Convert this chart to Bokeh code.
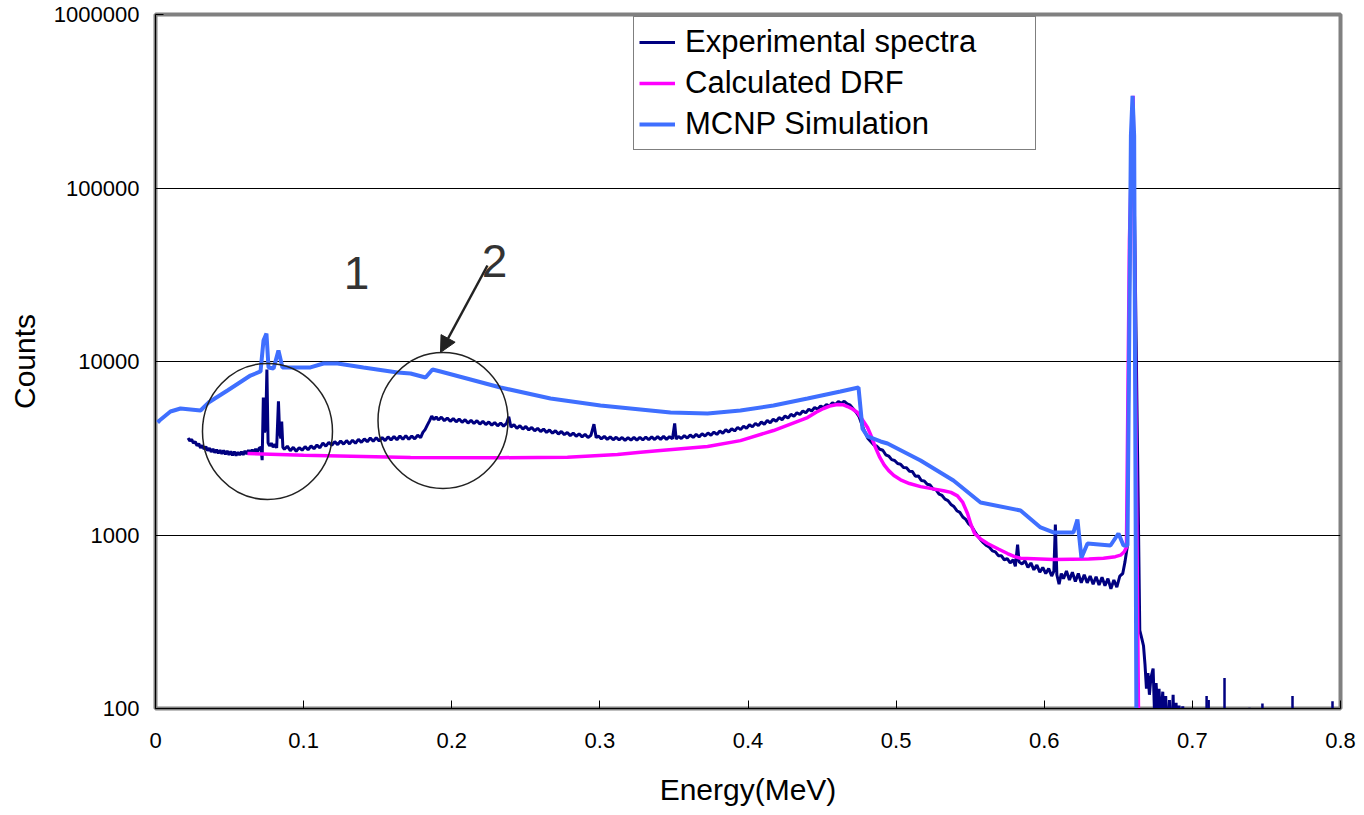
from bokeh.plotting import figure
from bokeh.models import (Range1d, FixedTicker, PrintfTickFormatter, CustomJSTickFormatter,
                          Arrow, NormalHead)
from bokeh.core.properties import value
from bokeh.embed import file_html
from bokeh.resources import INLINE

FONT = "Liberation Sans"

# ---------------- data ----------------
x_ticks = [0, 0.1, 0.2, 0.3, 0.4, 0.5, 0.6, 0.7, 0.8]
y_ticks = [100, 1000, 10000, 100000, 1000000]

series_names = ["Experimental spectra", "Calculated DRF", "MCNP Simulation"]

exp_points = [
    (0.0220, 3620), (0.0232, 3480), (0.0244, 3560), (0.0256, 3380), (0.0268, 3450),
    (0.0280, 3270), (0.0292, 3360), (0.0304, 3180), (0.0316, 3290), (0.0328, 3120),
    (0.0340, 3230), (0.0352, 3060), (0.0364, 3170), (0.0376, 3010), (0.0388, 3130),
    (0.0400, 2980), (0.0412, 3100), (0.0424, 2960), (0.0436, 3080), (0.0448, 2940),
    (0.0460, 3070), (0.0472, 2920), (0.0484, 3050), (0.0496, 2900), (0.0508, 3030),
    (0.0520, 2880), (0.0532, 3020), (0.0544, 2870), (0.0556, 3000), (0.0568, 2890),
    (0.0580, 3020), (0.0592, 2900), (0.0604, 3050), (0.0616, 2930), (0.0628, 3080),
    (0.0640, 2960), (0.0652, 3100), (0.0664, 2990), (0.0676, 3130), (0.0688, 3010),
    (0.0700, 3170), (0.0712, 3200), (0.0720, 2700), (0.0728, 6200), (0.0736, 3900),
    (0.0744, 4200), (0.0752, 9000), (0.0760, 3400), (0.0770, 3260), (0.0782, 3380),
    (0.0794, 3210), (0.0806, 3330), (0.0818, 3180), (0.0830, 5900), (0.0838, 3900),
    (0.0846, 3600), (0.0852, 4500), (0.0860, 3200), (0.0870, 3120),
    (0.0890, 3250), (0.0910, 3060), (0.0930, 3200), (0.0950, 3040), (0.0970, 3190),
    (0.0990, 3080), (0.1010, 3230), (0.1030, 3100), (0.1050, 3260), (0.1070, 3140),
    (0.1090, 3300), (0.1110, 3180), (0.1130, 3390), (0.1150, 3250), (0.1170, 3420),
    (0.1190, 3290), (0.1210, 3450), (0.1230, 3320), (0.1250, 3480), (0.1270, 3340),
    (0.1290, 3500), (0.1310, 3350), (0.1330, 3520), (0.1350, 3380), (0.1370, 3560),
    (0.1390, 3420), (0.1410, 3580), (0.1430, 3450), (0.1450, 3620), (0.1470, 3470),
    (0.1490, 3640), (0.1510, 3480), (0.1530, 3650), (0.1550, 3500), (0.1570, 3680),
    (0.1590, 3530), (0.1610, 3700), (0.1630, 3540), (0.1650, 3720), (0.1670, 3560),
    (0.1690, 3740), (0.1710, 3560), (0.1730, 3720), (0.1750, 3580), (0.1770, 3760),
    (0.1790, 3640), (0.1805, 3900), (0.1820, 4050), (0.1835, 4300), (0.1850, 4550),
    (0.1865, 4850), (0.1880, 4620), (0.1895, 4800), (0.1910, 4600), (0.1930, 4780),
    (0.1950, 4560), (0.1970, 4720), (0.1990, 4520), (0.2010, 4690), (0.2030, 4490),
    (0.2050, 4660), (0.2070, 4460), (0.2090, 4620), (0.2110, 4420), (0.2130, 4580),
    (0.2150, 4390), (0.2170, 4560), (0.2190, 4360), (0.2210, 4520), (0.2230, 4330),
    (0.2250, 4480), (0.2270, 4300), (0.2290, 4450), (0.2310, 4260), (0.2330, 4420),
    (0.2350, 4240), (0.2370, 4400), (0.2385, 4800), (0.2400, 4180), (0.2420, 4330),
    (0.2440, 4120), (0.2460, 4270), (0.2480, 4080), (0.2500, 4220), (0.2520, 4030),
    (0.2540, 4170), (0.2560, 3990), (0.2580, 4120), (0.2600, 3950), (0.2620, 4080),
    (0.2640, 3900), (0.2660, 4030), (0.2680, 3860), (0.2700, 3990), (0.2720, 3820),
    (0.2740, 3950), (0.2760, 3790), (0.2780, 3900), (0.2800, 3740), (0.2820, 3870),
    (0.2840, 3710), (0.2860, 3830), (0.2880, 3680), (0.2900, 3800), (0.2920, 3650),
    (0.2940, 3760), (0.2960, 4350), (0.2975, 3640), (0.2990, 3720), (0.3010, 3580),
    (0.3030, 3700), (0.3050, 3560), (0.3070, 3680), (0.3090, 3540), (0.3110, 3660),
    (0.3130, 3530), (0.3150, 3650), (0.3170, 3510), (0.3190, 3640), (0.3210, 3520),
    (0.3230, 3650), (0.3250, 3520), (0.3270, 3660), (0.3290, 3530), (0.3310, 3670),
    (0.3330, 3540), (0.3350, 3680), (0.3370, 3550), (0.3390, 3690), (0.3410, 3560),
    (0.3430, 3700), (0.3450, 3560), (0.3470, 3690), (0.3490, 3580), (0.3505, 4400),
    (0.3515, 3570), (0.3530, 3700), (0.3550, 3600), (0.3570, 3740), (0.3590, 3620),
    (0.3610, 3770), (0.3630, 3650), (0.3650, 3800), (0.3670, 3680), (0.3690, 3830),
    (0.3710, 3720), (0.3730, 3870), (0.3750, 3760), (0.3770, 3920), (0.3790, 3800),
    (0.3810, 3980), (0.3830, 3860), (0.3850, 4040), (0.3870, 3920), (0.3890, 4100),
    (0.3910, 3980), (0.3930, 4170), (0.3950, 4050), (0.3970, 4240), (0.3990, 4120),
    (0.4010, 4320), (0.4030, 4200), (0.4050, 4400), (0.4070, 4270), (0.4090, 4480),
    (0.4110, 4350), (0.4130, 4570), (0.4150, 4430), (0.4170, 4650), (0.4190, 4520),
    (0.4210, 4750), (0.4230, 4620), (0.4250, 4850), (0.4270, 4720), (0.4290, 4960),
    (0.4310, 4830), (0.4330, 5070), (0.4350, 4950), (0.4370, 5190), (0.4390, 5060),
    (0.4410, 5310), (0.4430, 5180), (0.4450, 5430), (0.4470, 5300), (0.4490, 5540),
    (0.4510, 5420), (0.4530, 5650), (0.4550, 5540), (0.4570, 5780), (0.4590, 5650),
    (0.4610, 5880), (0.4630, 5740), (0.4650, 5900), (0.4670, 5700), (0.4690, 5600),
    (0.4710, 5350), (0.4730, 5100), (0.4750, 4800), (0.4770, 4300), (0.4790, 3900),
    (0.4810, 3600), (0.4830, 3450), (0.4850, 3300), (0.4870, 3250), (0.4890, 3120),
    (0.4910, 3080), (0.4930, 2900), (0.4950, 2850), (0.4970, 2720), (0.4990, 2690),
    (0.5010, 2580), (0.5030, 2560), (0.5050, 2450), (0.5070, 2440), (0.5090, 2330),
    (0.5110, 2320), (0.5130, 2180), (0.5150, 2190), (0.5170, 2060), (0.5190, 2050),
    (0.5210, 1960), (0.5230, 1940), (0.5250, 1840), (0.5270, 1820), (0.5290, 1720),
    (0.5310, 1690), (0.5330, 1610), (0.5350, 1580), (0.5370, 1500), (0.5390, 1460),
    (0.5410, 1380), (0.5430, 1350), (0.5450, 1270), (0.5470, 1230), (0.5490, 1160),
    (0.5510, 1120), (0.5530, 1050), (0.5550, 990), (0.5570, 940), (0.5590, 900),
    (0.5610, 870), (0.5630, 850), (0.5650, 810), (0.5670, 800), (0.5690, 760),
    (0.5710, 760), (0.5730, 720), (0.5750, 730), (0.5770, 690), (0.5790, 720),
    (0.5805, 660), (0.5820, 880), (0.5830, 700), (0.5850, 680), (0.5870, 710),
    (0.5890, 650), (0.5910, 690), (0.5930, 630), (0.5950, 670), (0.5970, 610),
    (0.5990, 650), (0.6010, 600), (0.6030, 640), (0.6050, 580), (0.6065, 620),
    (0.6075, 1150), (0.6085, 590), (0.6100, 520), (0.6115, 600), (0.6130, 560),
    (0.6150, 620), (0.6170, 550), (0.6190, 610), (0.6210, 540), (0.6230, 600),
    (0.6250, 530), (0.6270, 590), (0.6290, 530), (0.6310, 580), (0.6330, 520),
    (0.6350, 575), (0.6370, 515), (0.6390, 570), (0.6410, 510), (0.6430, 560),
    (0.6450, 490), (0.6470, 550), (0.6490, 500), (0.6510, 580), (0.6530, 600),
    (0.6545, 700), (0.6560, 850), (0.6580, 60000), (0.6600, 300000), (0.6630, 3000),
    (0.6645, 282), (0.6660, 250), (0.6670, 230), (0.6680, 180), (0.6690, 130),
    (0.6700, 160), (0.6710, 120), (0.6720, 150), (0.6735, 170), (0.6745, 90),
    (0.6755, 140), (0.6765, 100), (0.6775, 130), (0.6785, 80), (0.6800, 125),
    (0.6810, 70), (0.6820, 118), (0.6830, 60), (0.6845, 112), (0.6855, 50),
    (0.6870, 120), (0.6880, 50), (0.6890, 108), (0.6900, 50), (0.6910, 104),
    (0.6920, 50), (0.6935, 103), (0.6950, 50), (0.7000, 50),
]
exp_energy = [e for e, _ in exp_points]
exp_counts = [c for _, c in exp_points]

# isolated single-channel counts in the tail of the experimental spectrum
tail_energy = [0.7096, 0.7110, 0.7217, 0.7386, 0.7473, 0.7676, 0.7946]
tail_counts = [118, 112, 150, 101, 107, 118, 110]

drf_energy = [0.0621, 0.1000, 0.1722, 0.2329, 0.2781, 0.3119, 0.3274, 0.3409, 0.3727,
              0.3949, 0.4172, 0.4402, 0.4460, 0.4510, 0.4560, 0.4604, 0.4640, 0.4672,
              0.4705, 0.4739, 0.4770, 0.4807, 0.4830, 0.4860, 0.4890, 0.4920, 0.4950,
              0.4985, 0.5030, 0.5090, 0.5165, 0.5240, 0.5320, 0.5370, 0.5414, 0.5450,
              0.5482, 0.5505, 0.5530, 0.5570, 0.5617, 0.5690, 0.5752, 0.5800, 0.5840,
              0.6062, 0.6300, 0.6400, 0.6480, 0.6515, 0.6540, 0.6555, 0.6575, 0.6600,
              0.6636, 0.6648]
drf_counts = [2950, 2880, 2800, 2790, 2810, 2910, 3000, 3070, 3240,
              3500, 4000, 4750, 5100, 5360, 5560, 5650, 5640, 5500,
              5320, 5080, 4650, 4165, 3750, 3200, 2800, 2530, 2350,
              2200, 2080, 1980, 1900, 1850, 1800, 1760, 1680, 1540,
              1330, 1150, 1020, 950, 893, 830, 782, 750, 735,
              722, 728, 735, 750, 765, 800, 850, 50000, 340000,
              100, 20]

mcnp_energy = [0.0014, 0.0027, 0.0101, 0.0169, 0.0304, 0.0358, 0.0486, 0.0641, 0.0709,
               0.0729, 0.0749, 0.0763, 0.0797, 0.0830, 0.0857, 0.1046, 0.1134, 0.1229,
               0.1404, 0.1634, 0.1722, 0.1823, 0.1870, 0.1924, 0.2329, 0.2667, 0.3004,
               0.3274, 0.3477, 0.3727, 0.3949, 0.4172, 0.4402, 0.4624, 0.4746, 0.4773,
               0.4807, 0.4895, 0.4942, 0.5165, 0.5387, 0.5570, 0.5840, 0.5975, 0.6062,
               0.6197, 0.6224, 0.6251, 0.6292, 0.6447, 0.6501, 0.6535, 0.6562, 0.6585,
               0.6596, 0.6607, 0.6625]
mcnp_counts = [4450, 4570, 5150, 5360, 5220, 5800, 6810, 8300, 8760,
               13200, 14500, 9240, 9110, 11570, 9240, 9240, 9740, 9740,
               9240, 8640, 8530, 8085, 9000, 8760, 7083, 6118, 5577,
               5290, 5080, 5015, 5220, 5580, 6118, 6716, 7083, 4100,
               3700, 3460, 3370, 2690, 2060, 1540, 1384, 1105, 1034,
               1034, 1228, 740, 893, 870, 1020, 870, 870, 200000,
               340000, 200000, 20]

# annotations
circle_energy = [0.0756, 0.1941]
circle_counts = [3950, 4570]
label_text = ["1", "2"]
label_energy = [0.1357, 0.2289]
label_counts = [32580, 38200]
arrow_start = (0.2241, 35750)
arrow_end = (0.1924, 11270)

# ---------------- figure ----------------
p = figure(width=1364, height=815, x_range=Range1d(0, 0.8), y_range=Range1d(100, 1000000),
           y_axis_type="log", output_backend="svg", toolbar_location=None,
           min_border_left=155, min_border_right=24, min_border_top=14, min_border_bottom=107)
p.background_fill_color = "white"
p.border_fill_color = "white"
p.outline_line_color = "#808080"
p.outline_line_width = 4

p.xgrid.visible = False
p.ygrid.grid_line_color = "black"
p.ygrid.grid_line_width = 1

xa = p.xaxis[0]
xa.ticker = FixedTicker(ticks=x_ticks)
xa.formatter = CustomJSTickFormatter(code="return tick == 0 ? '0' : tick.toFixed(1);")
xa.axis_label = "Energy(MeV)"
ya = p.yaxis[0]
ya.ticker = FixedTicker(ticks=y_ticks)
ya.formatter = PrintfTickFormatter(format="%d")
ya.axis_label = "Counts"

for ax in (xa, ya):
    ax.major_tick_in = 8
    ax.major_tick_out = 0
    ax.major_tick_line_color = "black"
    ax.minor_tick_line_color = None
    ax.axis_line_color = "black"
    ax.major_label_text_font = FONT
    ax.major_label_text_font_size = "22px"
    ax.major_label_text_color = "black"
    ax.axis_label_text_font = FONT
    ax.axis_label_text_font_size = "30px"
    ax.axis_label_text_font_style = "normal"
    ax.axis_label_text_color = "black"
xa.major_label_standoff = 24
xa.axis_label_standoff = 22
ya.major_label_standoff = 16
ya.axis_label_standoff = 10

# series
p.line(exp_energy, exp_counts, line_color="#000080", line_width=3, legend_label=series_names[0])
p.segment(x0=tail_energy, y0=[100] * len(tail_energy), x1=tail_energy, y1=tail_counts,
          line_color="#000080", line_width=2.5)
p.line(drf_energy, drf_counts, line_color="#FF00FF", line_width=3.5, legend_label=series_names[1])
p.line(mcnp_energy, mcnp_counts, line_color="#3F6FFF", line_width=4, legend_label=series_names[2])

# annotations: circles, labels, arrow
p.ellipse(x=circle_energy, y=circle_counts, width=130, height=136,
          width_units="screen", height_units="screen",
          fill_color=None, line_color="#222222", line_width=1.5)
p.text(x=label_energy, y=label_counts, text=label_text, text_font=value(FONT),
       text_font_size="46px", text_color="#333333", text_align="center",
       text_baseline="alphabetic")
p.add_layout(Arrow(x_start=arrow_start[0], y_start=arrow_start[1],
                   x_end=arrow_end[0], y_end=arrow_end[1],
                   line_color="#222222", line_width=2.5,
                   end=NormalHead(size=16, fill_color="#222222", line_color="#222222")))

lg = p.legend[0]
lg.location = (478, 558)
lg.border_line_color = "black"
lg.border_line_width = 1
lg.background_fill_color = "white"
lg.background_fill_alpha = 1
lg.label_text_font = FONT
lg.label_text_font_size = "31px"
lg.label_text_color = "black"
lg.padding = 5
lg.spacing = 1
lg.label_height = 40
lg.glyph_height = 40
lg.glyph_width = 36
lg.label_standoff = 10
lg.label_width = 345
lg.margin = 0

open("out.html", "w").write(file_html(p, INLINE))
